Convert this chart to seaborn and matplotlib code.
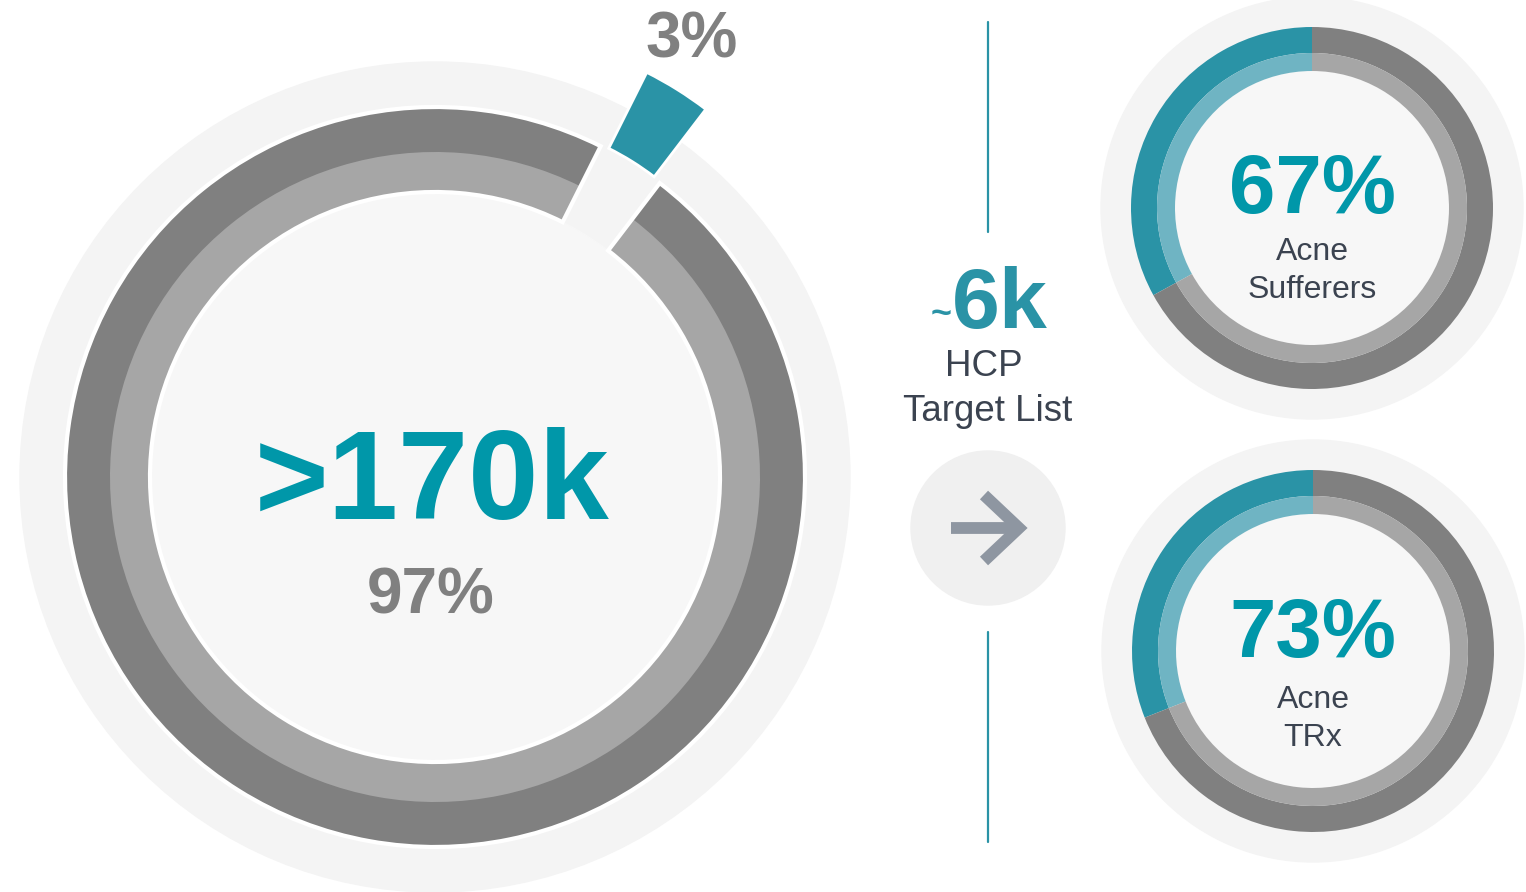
import matplotlib.pyplot as plt
import seaborn as sns
from matplotlib.patches import Circle

# data
big_shares = [3, 97]                 # exploded slice, remainder
big_value_text = ">170k"
big_share_labels = ["3%", "97%"]

hcp_value = "6k"
hcp_label = ["HCP", "Target List"]

small_arc_shares = [[33, 67], [31, 69]]   # teal arc, gray arc as drawn
small_value_labels = ["67%", "73%"]
small_text_labels = [["Acne", "Sufferers"], ["Acne", "TRx"]]

TEAL = "#2A93A6"
TEAL_TEXT = "#0097A9"
TEAL_LIGHT = "#6FB4C3"
DARK_GRAY = "#808080"
LIGHT_GRAY = "#A6A6A6"
BG_RING = "#F4F4F4"
INNER = "#F7F7F7"
TEXT_DARK = "#3B4350"

W, H = 1526, 892

sns.set_theme(style="white")
plt.rcParams["font.family"] = ["Liberation Sans", "DejaVu Sans"]


def Y(y):
    return H - y


fig = plt.figure(figsize=(W / 100, H / 100), dpi=100)
ax = fig.add_axes([0, 0, 1, 1])
ax.set_xlim(0, W)
ax.set_ylim(0, H)
ax.set_aspect("equal")
ax.axis("off")


def ring(values, center, radius, width, colors, start, edge=None, lw=0, explode=None, z=2):
    wedges, _ = ax.pie(
        values, radius=radius, center=center, startangle=start, colors=colors,
        explode=explode, counterclock=True, frame=True,
        wedgeprops=dict(width=width, edgecolor=edge if edge else "none", linewidth=lw),
    )
    for w in wedges:
        w.set_zorder(z)
    return wedges


# ---- big donut ----
bc = (435, Y(477))
ax.add_patch(Circle(bc, 415, color=BG_RING, zorder=0))
ax.add_patch(Circle(bc, 285, color=INNER, zorder=1))
start = 52.6
w = ring(big_shares, bc, 370, 85, ["none", DARK_GRAY], start, z=2)
w = ring(big_shares, bc, 325, 40, ["none", LIGHT_GRAY], start, z=3)
w = ring(big_shares, bc, 370, 85, ["none", "none"], start, edge="white", lw=3, z=4)
w[0].set_visible(False)
# pie's explode is an offset in data units (pixels here)
w = ring(big_shares, bc, 370, 85, [TEAL, "none"], start, edge="white", lw=2,
         explode=[87, 0], z=4)
w[1].set_visible(False)

ax.text(692, Y(58), big_share_labels[0], ha="center", va="baseline",
        fontsize=46, fontweight="bold", color=DARK_GRAY)
ax.text(432, Y(519), big_value_text, ha="center", va="baseline",
        fontsize=91, fontweight="bold", color=TEAL_TEXT, zorder=6)
ax.text(431, Y(613), big_share_labels[1], ha="center", va="baseline",
        fontsize=46, fontweight="bold", color=DARK_GRAY, zorder=6)

# ---- middle column ----
ax.plot([988, 988], [Y(22), Y(232)], color=TEAL, lw=1.6)
ax.plot([988, 988], [Y(632), Y(842)], color=TEAL, lw=1.6)
ax.text(1000, Y(328), hcp_value, ha="center", va="baseline",
        fontsize=62, fontweight="bold", color=TEAL)
ax.text(941, Y(324), "~", ha="center", va="baseline",
        fontsize=26, fontweight="bold", color=TEAL)
ax.text(984, Y(376), hcp_label[0], ha="center", va="baseline",
        fontsize=26.5, color=TEXT_DARK)
ax.text(988, Y(421), hcp_label[1], ha="center", va="baseline",
        fontsize=26.5, color=TEXT_DARK)

ax.add_patch(Circle((988, Y(528)), 77, color="#F0F0F0", zorder=1))
ax.plot([951, 1016], [Y(528), Y(528)], color="#8E96A1", lw=8.5,
        solid_capstyle="butt", zorder=2)
ax.plot([984, 1019, 984], [Y(495), Y(528), Y(561)], color="#8E96A1", lw=8.5,
        solid_capstyle="butt", solid_joinstyle="miter", zorder=2)

# ---- small donuts ----
small_centers = [(1312, Y(208)), (1313, Y(651))]
value_baselines = [213, 657]
text_baselines = [[260, 298], [708, 746]]
for i, c in enumerate(small_centers):
    ax.add_patch(Circle(c, 211, color=BG_RING, zorder=0))
    ax.add_patch(Circle(c, 137, color=INNER, zorder=1))
    ring(small_arc_shares[i], c, 181, 26, [TEAL, DARK_GRAY], 90, z=2)
    ring(small_arc_shares[i], c, 155, 18, [TEAL_LIGHT, LIGHT_GRAY], 90, z=3)
    ax.text(c[0], Y(value_baselines[i]), small_value_labels[i], ha="center",
            va="baseline", fontsize=60, fontweight="bold", color=TEAL_TEXT, zorder=6)
    for txt, yb in zip(small_text_labels[i], text_baselines[i]):
        ax.text(c[0], Y(yb), txt, ha="center", va="baseline",
                fontsize=23, color=TEXT_DARK, zorder=6)

ax.set_xlim(0, W)
ax.set_ylim(0, H)
fig.savefig("out.png", dpi=100, facecolor="white")
